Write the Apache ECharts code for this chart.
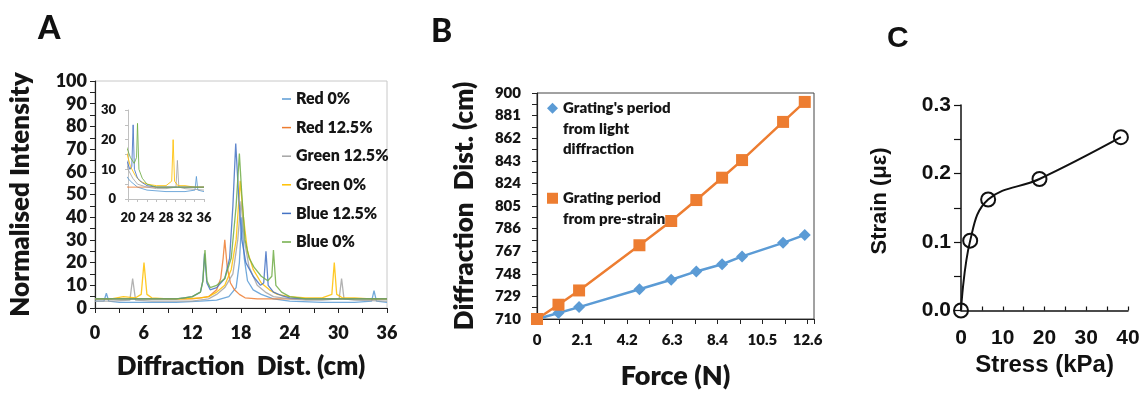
<!DOCTYPE html>
<html>
<head>
<meta charset="utf-8">
<script src="https://cdn.jsdelivr.net/npm/echarts@6.0.0/dist/echarts.min.js"></script>
<style>
html, body { margin: 0; padding: 0; background: #fff; }
#main { width: 1148px; height: 396px; }
</style>
</head>
<body>
<div id="main"></div>
<script>
// ---- panel A: spectra, [distance cm, normalised intensity]
var spectraNames = ["Red 0%", "Red 12.5%", "Green 12.5%", "Green 0%", "Blue 12.5%", "Blue 0%"];
var spectraColors = ["#5B9BD5", "#ED7D31", "#A5A5A5", "#FFC000", "#4472C4", "#70AD47"];

var red0 = [[0,3],[1.1,3],[1.4,6.5],[1.7,3],[3,2.5],[6,2.5],[10,2.5],[13,3],[15,3.5],[16.5,5],[17.4,9],[17.8,20],[18.1,40],[18.4,22],[18.8,12],[19.5,8],[20.5,6],[22,4],[24,3],[28,2.5],[32,2.5],[34.1,3],[34.4,7.6],[34.7,3],[36,2.5]];
var red125 = [[0,4],[4,4],[8,4],[10,4],[12,4],[13,4.5],[14,5],[15,8],[15.5,13],[15.8,22],[16.0,30],[16.3,18],[16.7,11],[17.2,8],[17.8,6],[18.5,4.5],[20,4],[24,4],[28,4],[31,4],[36,4]];
var green125 = [[0,3],[2,3],[4.3,3.5],[4.64,13],[5.0,3.5],[7,3],[10,3],[12,3],[14,4],[15,6],[16,9],[17,15],[17.6,30],[18.0,47],[18.4,30],[19,18],[20,10],[21,7],[22,5],[24,4],[26,3.5],[28,3.5],[30.1,4],[30.4,13],[30.7,4],[32,3.5],[36,3]];
var green0 = [[0,4],[2,4],[3.5,5],[5,4.5],[5.7,6],[6.04,20],[6.4,6],[7,4.5],[9,4],[11,4],[13,4.5],[14,5],[15,7],[16,10],[16.8,17],[17.4,30],[17.9,56],[18.3,40],[18.8,25],[19.5,17],[20.5,11],[21.5,8],[22.5,6],[24,5],[26,4.5],[28,4.5],[29.2,6],[29.5,20],[29.8,6],[30.5,4.5],[32,4.5],[34,4],[36,4]];
var blue125 = [[0,4],[4,4],[8,4],[10,4],[11,4.5],[12,5],[13,7],[13.3,12],[13.5,24],[13.8,11],[14.2,8],[15,9],[16,13],[16.6,22],[17.0,45],[17.35,72.5],[17.7,50],[18.1,30],[18.6,20],[19.5,14],[20.4,10],[20.8,11],[21.08,25],[21.35,10],[22,7],[23,5.5],[24,4.5],[26,4],[30,4],[36,4]];
var blue0 = [[0,4],[4,4],[8,4],[10,4],[11,4.5],[12,5],[13,7],[13.3,12],[13.56,25.5],[13.8,12],[14.2,9],[15,10],[16,13],[16.8,22],[17.4,45],[17.8,68],[18.1,50],[18.5,30],[19,22],[19.6,18],[20.5,14],[21.3,12],[21.8,14],[22.0,25.5],[22.3,10],[23,7],[24,5],[26,4],[30,4],[36,4]];
var spectra = [red0, red125, green125, green0, blue125, blue0];

// ---- panel B: force (N) vs diffraction distance (cm)
var forceN = [0, 1.0, 1.96, 4.77, 6.25, 7.42, 8.62, 9.55, 11.46, 12.47];
var lightPeriod = [710, 715, 720, 735, 743, 750, 756, 762.6, 774, 780.7];
var preStrainPeriod = [710, 722, 734, 772, 792.4, 810, 828.8, 843.6, 875.7, 892.5];
var nameLight = "Grating's period\nfrom light\ndiffraction";
var namePre = "Grating period\nfrom pre-strain";

// ---- panel C: stress (kPa) vs strain
var stressKPa = [0, 2.2, 6.5, 18.8, 38.3];
var strainUe = [0, 0.102, 0.162, 0.192, 0.253];

var FA = "Lato, 'Open Sans', sans-serif";
var FC = "'Liberation Sans', Arial, sans-serif";
var WA = 800;

var chart = echarts.init(document.getElementById("main"), null, { renderer: "canvas" });

var series = [];
spectra.forEach(function (d, i) {
  [0, 1].forEach(function (k) {
    series.push({
      name: spectraNames[i],
      type: "line",
      xAxisIndex: k,
      yAxisIndex: k,
      data: d,
      showSymbol: false,
      symbol: "none",
      clip: true,
      color: spectraColors[i],
      lineStyle: { width: k ? 1 : 1.3, color: spectraColors[i], opacity: 0.85 },
      silent: true
    });
  });
});

series.push({
  name: nameLight,
  type: "line",
  xAxisIndex: 2,
  yAxisIndex: 2,
  data: forceN.map(function (f, i) { return [f, lightPeriod[i]]; }),
  symbol: "diamond",
  symbolSize: 12,
  color: "#5B9BD5",
  lineStyle: { width: 2.5, color: "#5B9BD5" },
  itemStyle: { color: "#5B9BD5" }
});
series.push({
  name: namePre,
  type: "line",
  xAxisIndex: 2,
  yAxisIndex: 2,
  data: forceN.map(function (f, i) { return [f, preStrainPeriod[i]]; }),
  symbol: "rect",
  symbolSize: 12,
  color: "#ED7D31",
  lineStyle: { width: 2.5, color: "#ED7D31" },
  itemStyle: { color: "#ED7D31" }
});
series.push({
  name: "Strain",
  type: "line",
  xAxisIndex: 3,
  yAxisIndex: 3,
  data: stressKPa.map(function (s, i) { return [s, strainUe[i]]; }),
  smooth: 0.4,
  symbol: "circle",
  symbolSize: 14,
  showAllSymbol: true,
  lineStyle: { width: 2, color: "#111" },
  itemStyle: { color: "rgba(255,255,255,0)", borderColor: "#111", borderWidth: 2 }
});

var boldA = { fontFamily: FA, fontWeight: WA, color: "#151515" };

var option = {
  backgroundColor: "#fff",
  animation: false,
  grid: [
    { left: 95, top: 81, width: 292, height: 227, show: true, borderColor: "#c8c8c8", borderWidth: 1 },
    { left: 128, top: 110, width: 76, height: 89 },
    { left: 537, top: 93, width: 277, height: 226, show: true, borderColor: "#444", borderWidth: 1 },
    { left: 961, top: 105, width: 167, height: 205.5 }
  ],
  xAxis: [
    {
      gridIndex: 0, type: "value", min: 0, max: 36, interval: 6,
      name: "Diffraction  Dist. (cm)", nameLocation: "middle", nameGap: 46,
      nameTextStyle: Object.assign({ fontSize: 26 }, boldA),
      axisLine: { lineStyle: { color: "#222", width: 1.2 } },
      axisTick: { show: true, length: 5, lineStyle: { color: "#222" } },
      minorTick: { show: true, splitNumber: 2, length: 5, lineStyle: { color: "#222" } },
      axisLabel: Object.assign({ fontSize: 18, margin: 16 }, boldA),
      splitLine: { show: false }
    },
    {
      gridIndex: 1, type: "value", min: 20, max: 36, interval: 4,
      axisLine: { lineStyle: { color: "#c0c0c0" } },
      axisTick: { show: true, length: 3, lineStyle: { color: "#c0c0c0" } },
      minorTick: { show: true, splitNumber: 2, length: 3, lineStyle: { color: "#c0c0c0" } },
      axisLabel: Object.assign({ fontSize: 13, margin: 12 }, boldA),
      splitLine: { show: false }
    },
    {
      gridIndex: 2, type: "value", min: 0, max: 12.9, interval: 2.1,
      name: "Force (N)", nameLocation: "middle", nameGap: 44,
      nameTextStyle: Object.assign({ fontSize: 27 }, boldA),
      axisLine: { lineStyle: { color: "#222", width: 1.2 } },
      axisTick: { show: true, length: 5, lineStyle: { color: "#222" } },
      minorTick: { show: true, splitNumber: 2, length: 5, lineStyle: { color: "#222" } },
      axisLabel: Object.assign({ fontSize: 15, margin: 14, showMaxLabel: false }, boldA),
      splitLine: { show: false }
    },
    {
      gridIndex: 3, type: "value", min: 0, max: 40, interval: 10,
      name: "Stress (kPa)", nameLocation: "middle", nameGap: 26,
      nameTextStyle: { fontFamily: FC, fontWeight: "bold", fontSize: 24, color: "#111" },
      axisLine: { lineStyle: { color: "#111", width: 1.5 } },
      axisTick: { show: true, inside: true, length: 4, lineStyle: { color: "#111", width: 1.2 } },
      minorTick: { show: true, splitNumber: 2, length: 4, lineStyle: { color: "#111", width: 1.2 } },
      axisLabel: { fontFamily: FC, fontWeight: "bold", fontSize: 21, color: "#111", margin: 17 },
      splitLine: { show: false }
    }
  ],
  yAxis: [
    {
      gridIndex: 0, type: "value", min: 0, max: 100, interval: 10,
      name: "Normalised Intensity", nameLocation: "middle", nameGap: 61,
      nameTextStyle: Object.assign({ fontSize: 26 }, boldA),
      axisLine: { show: true, lineStyle: { color: "#222", width: 1.2 } },
      axisTick: { show: true, length: 5, lineStyle: { color: "#222" } },
      minorTick: { show: true, splitNumber: 2, length: 5, lineStyle: { color: "#222" } },
      axisLabel: Object.assign({ fontSize: 18, margin: 8 }, boldA),
      splitLine: { show: false }
    },
    {
      gridIndex: 1, type: "value", min: 0, max: 30, interval: 10,
      axisLine: { show: true, lineStyle: { color: "#c0c0c0" } },
      axisTick: { show: true, length: 3, lineStyle: { color: "#c0c0c0" } },
      minorTick: { show: true, splitNumber: 2, length: 3, lineStyle: { color: "#c0c0c0" } },
      axisLabel: Object.assign({ fontSize: 13, margin: 12 }, boldA),
      splitLine: { show: false }
    },
    {
      gridIndex: 2, type: "value", min: 710, max: 900, interval: 19,
      name: "Diffraction  Dist. (cm)", nameLocation: "middle", nameGap: 59,
      nameTextStyle: Object.assign({ fontSize: 26 }, boldA),
      axisLine: { show: true, lineStyle: { color: "#222", width: 1.2 } },
      axisTick: { show: true, length: 5, lineStyle: { color: "#222" } },
      minorTick: { show: true, splitNumber: 2, length: 5, lineStyle: { color: "#222" } },
      axisLabel: Object.assign({ fontSize: 15, margin: 16 }, boldA),
      splitLine: { show: false }
    },
    {
      gridIndex: 3, type: "value", min: 0, max: 0.3, interval: 0.1,
      axisLine: { show: true, lineStyle: { color: "#111", width: 1.5 } },
      axisTick: { show: true, length: 7, lineStyle: { color: "#111", width: 1.2 } },
      minorTick: { show: true, splitNumber: 2, length: 7, lineStyle: { color: "#111", width: 1.2 } },
      axisLabel: {
        fontFamily: FC, fontWeight: "bold", fontSize: 21, color: "#111", margin: 10,
        formatter: function (v) { return v.toFixed(1); }
      },
      splitLine: { show: false }
    }
  ],
  legend: [
    {
      data: spectraNames,
      orient: "vertical",
      left: 277,
      top: 86,
      icon: "rect",
      itemWidth: 9,
      itemHeight: 1.5,
      itemGap: 12.6,
      selectedMode: false,
      textStyle: Object.assign({ fontSize: 16 }, boldA)
    },
    {
      // leading blank lines keep the first text line level with the icon
      data: [
        { name: nameLight, icon: "diamond" },
        { name: namePre, icon: "rect" }
      ],
      formatter: function (n) { return (n === nameLight ? "\n\n" : "\n") + n; },
      orient: "vertical",
      left: 542,
      top: 52,
      itemWidth: 11,
      itemHeight: 11,
      itemGap: 8,
      selectedMode: false,
      textStyle: Object.assign({ fontSize: 15, lineHeight: 20.5 }, boldA)
    }
  ],
  graphic: [
    { type: "text", left: 38, top: 13, style: { text: "A", font: "900 32px " + FA, fill: "#111" } },
    { type: "text", left: 431, top: 16, style: { text: "B", font: "900 32px " + FA, fill: "#111" } },
    { type: "text", left: 887, top: 24, style: { text: "C", font: "bold 30px " + FC, fill: "#111" } },
    {
      type: "text", x: 880, y: 201, rotation: Math.PI / 2,
      style: { text: "Strain (με)", font: "bold 22px " + FC, fill: "#111", align: "center", verticalAlign: "middle" }
    }
  ],
  series: series
};

chart.setOption(option);
</script>
</body>
</html>
